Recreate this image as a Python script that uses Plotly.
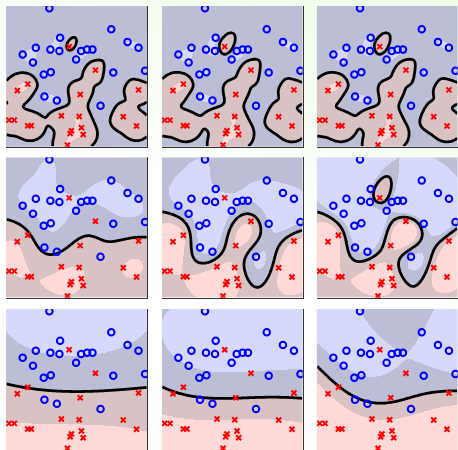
import numpy as np
import plotly.graph_objects as go

# ---- data (unit square coordinates) ----
blue_x = [0.307, 0.745, 0.383, 0.860, 0.938, 0.211, 0.314, 0.378, 0.532, 0.574, 0.612,
          0.118, 0.191, 0.496, 0.317, 0.267, 0.759, 0.984, 0.272, 0.360, 0.669]
blue_y = [0.984, 0.835, 0.775, 0.745, 0.704, 0.704, 0.690, 0.681, 0.681, 0.690, 0.690,
          0.655, 0.598, 0.619, 0.530, 0.513, 0.527, 0.539, 0.357, 0.328, 0.291]
red_x = [0.447, 0.633, 0.154, 0.080, 0.525, 0.938, 0.392, 0.518, 0.830, 0.021, 0.059,
         0.154, 0.179, 0.924, 0.534, 0.463, 0.454, 0.546, 0.435]
red_y = [0.711, 0.544, 0.445, 0.399, 0.371, 0.404, 0.220, 0.215, 0.213, 0.189, 0.189,
         0.149, 0.149, 0.147, 0.135, 0.113, 0.094, 0.087, 0.012]

# RBF kernel width per row and soft-margin C per column
row_gamma = [200.0, 20.0, 1.5]
col_C = [1.0, 10.0, 100.0]

# colours for f>1, 0<f<1, -1<f<0, f<-1
c_lblue, c_gblue, c_gpink, c_lpink = '#d6d8fc', '#bcbed6', '#d8c2c4', '#ffd8d8'


def svm_train(X, y, gamma, C, tol=1e-3, max_iter=200000):
    d2 = ((X[:, None, :] - X[None, :, :]) ** 2).sum(-1)
    K = np.exp(-gamma * d2)
    Q = (y[:, None] * y[None, :]) * K
    n = len(y)
    a = np.zeros(n)
    G = -np.ones(n)
    m = M = 0.0
    for _ in range(max_iter):
        up = ((y > 0) & (a < C)) | ((y < 0) & (a > 0))
        low = ((y < 0) & (a < C)) | ((y > 0) & (a > 0))
        v = -y * G
        iu = np.where(up)[0]
        il = np.where(low)[0]
        i = iu[np.argmax(v[iu])]
        j = il[np.argmin(v[il])]
        m, M = v[i], v[j]
        if m - M < tol:
            break
        eta = max(K[i, i] + K[j, j] - 2 * K[i, j], 1e-12)
        t = (m - M) / eta
        bi = C - a[i] if y[i] > 0 else a[i]
        bj = C - a[j] if y[j] < 0 else a[j]
        t = min(t, bi, bj)
        a[i] += y[i] * t
        a[j] -= y[j] * t
        G += t * (y[i] * Q[:, i] - y[j] * Q[:, j])
    rho = -(m + M) / 2
    return a, rho


X = np.column_stack([np.r_[blue_x, red_x], np.r_[blue_y, red_y]])
Y = np.r_[np.ones(len(blue_x)), -np.ones(len(red_x))]

N = 141
g = (np.arange(N) + 0.5) / N
GX, GY = np.meshgrid(g, g)
P = np.column_stack([GX.ravel(), GY.ravel()])
D2 = ((P[:, None, :] - X[None, :, :]) ** 2).sum(-1)

W, H = 458, 450
xdoms = [(6, 147.3), (161.7, 302.7), (316.7, 457.7)]
ydoms = [(6, 146.7), (157.3, 297.7), (309, 450)]

fig = go.Figure()

# faint green page gradient (lowest subplot)
bx = np.linspace(0, 1, 60)
by = np.linspace(0, 1, 60)
BX, BY = np.meshgrid(bx, by)
bt = np.clip(0.6 * BX + 1.3 * BY - 0.95, 0, 1)
fig.add_trace(go.Heatmap(x=bx, y=by, z=bt, colorscale=[[0, '#ffffff'], [1, '#ecfde4']],
                         zmin=0, zmax=1, showscale=False, hoverinfo='skip',
                         xaxis='x', yaxis='y'))
fig.update_layout(xaxis=dict(domain=[0, 1], range=[0, 1], visible=False, fixedrange=True),
                  yaxis=dict(domain=[0, 1], range=[0, 1], visible=False, fixedrange=True))

dscale = [[0, c_lpink], [0.25, c_lpink], [0.25, c_gpink], [0.5, c_gpink],
          [0.5, c_gblue], [0.75, c_gblue], [0.75, c_lblue], [1, c_lblue]]

k = 2
for r, gam in enumerate(row_gamma):
    for c, C in enumerate(col_C):
        a, rho = svm_train(X, Y, gam, C)
        f = (np.exp(-gam * D2) @ (a * Y) - rho).reshape(N, N)
        cat = np.digitize(f, [-1, 0, 1])
        xa, ya = 'x%d' % k, 'y%d' % k
        fig.add_trace(go.Heatmap(x=g, y=g, z=cat, zmin=-0.5, zmax=3.5, colorscale=dscale,
                                 showscale=False, hoverinfo='skip', xaxis=xa, yaxis=ya))
        fig.add_trace(go.Contour(x=g, y=g, z=f, contours=dict(start=0, end=0, size=1, coloring='lines'),
                                 colorscale=[[0, 'black'], [1, 'black']], line=dict(width=2.8, smoothing=1),
                                 showscale=False, hoverinfo='skip', xaxis=xa, yaxis=ya))
        fig.add_trace(go.Scatter(x=blue_x, y=blue_y, mode='markers', xaxis=xa, yaxis=ya,
                                 marker=dict(symbol='circle-open', size=6.5, color='#0000ff',
                                             line=dict(width=2, color='#0000ff')), hoverinfo='skip'))
        fig.add_trace(go.Scatter(x=red_x, y=red_y, mode='markers', xaxis=xa, yaxis=ya,
                                 marker=dict(symbol='x-thin-open', size=5, color='#ff0000',
                                             line=dict(width=2, color='#ff0000')), hoverinfo='skip'))
        x0, x1 = xdoms[c]
        y0, y1 = ydoms[r]
        fig.layout['xaxis%d' % k] = dict(domain=[x0 / W, x1 / W], range=[0, 1], showgrid=False,
                                         zeroline=False, showticklabels=False, ticks='',
                                         showline=True, linecolor='#333333', linewidth=1,
                                         anchor=ya, fixedrange=True)
        fig.layout['yaxis%d' % k] = dict(domain=[1 - y1 / H, 1 - y0 / H], range=[0, 1], showgrid=False,
                                         zeroline=False, showticklabels=False, ticks='', side='right',
                                         showline=True, linecolor='#333333', linewidth=1,
                                         anchor=xa, fixedrange=True)
        k += 1

fig.update_layout(width=W, height=H, margin=dict(l=0, r=0, t=0, b=0), showlegend=False,
                  paper_bgcolor='white', plot_bgcolor='rgba(0,0,0,0)')
fig.write_html('out.html', config={'displayModeBar': False},
               post_script="document.body.style.margin='0';document.body.style.overflow='hidden';")
